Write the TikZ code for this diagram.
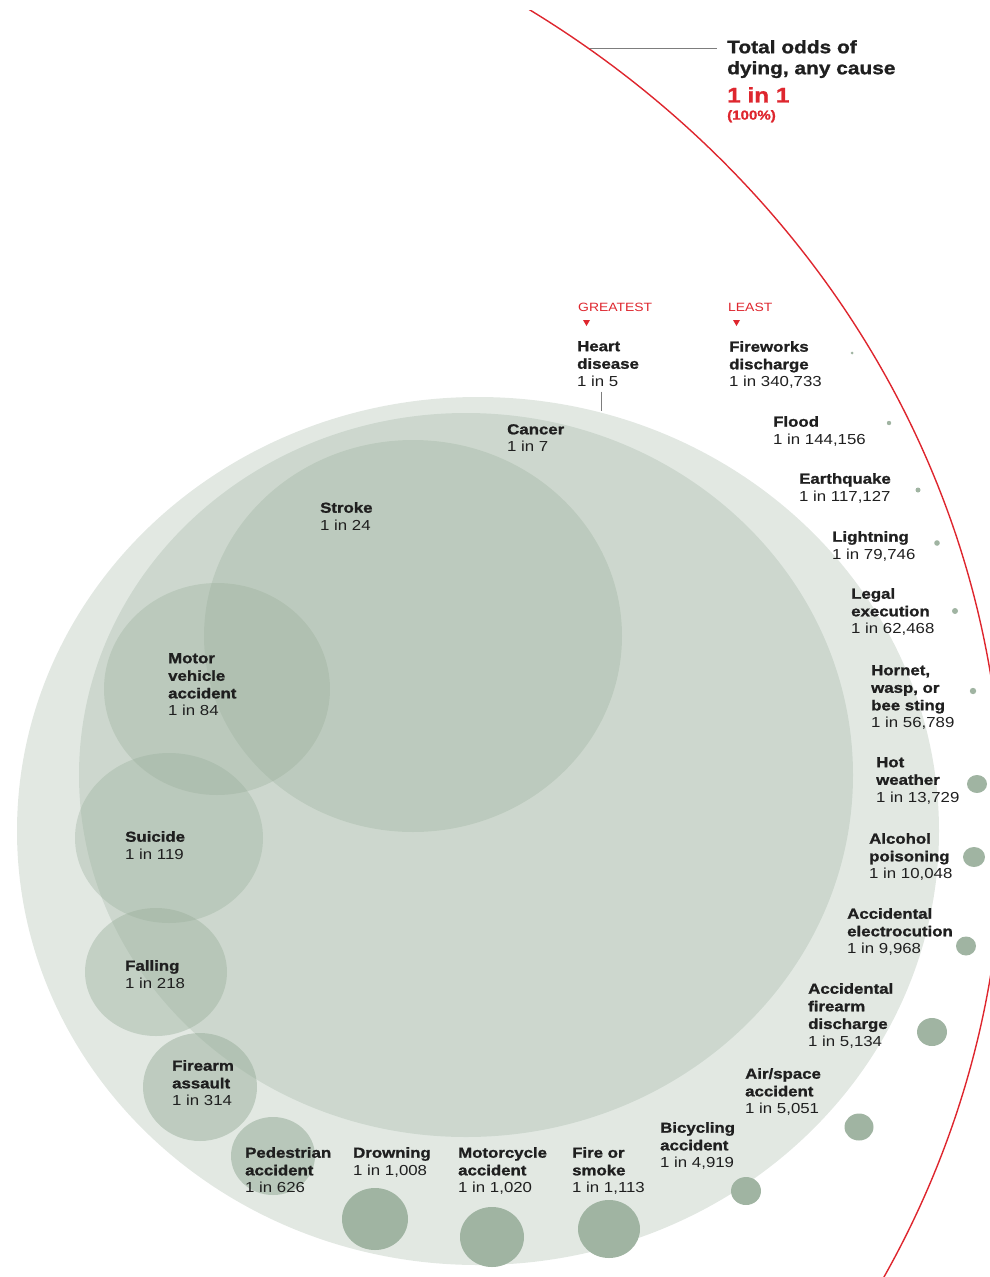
\documentclass[tikz,border=0pt]{standalone}
\usepackage{fontspec}
\setmainfont{Liberation Sans}[FakeStretch=1.16, BoldFeatures={FakeBold=1.2}]
\definecolor{sage}{RGB}{150,172,152}
\definecolor{dotsage}{RGB}{160,180,162}
\definecolor{oddsred}{RGB}{222,38,46}
\definecolor{leadgray}{RGB}{125,125,125}
\def\bubble[#1](#2)(#3:#4){\fill[#1] (#2) ellipse [x radius=#3, y radius=#4];}
\newcommand\causefont{\fontsize{14.5}{17.6}\selectfont\bfseries}
\tikzset{
	cause/.style={anchor=north west, inner sep=0pt, align=left, font=\causefont, text=black!88},
	tag/.style={anchor=north west, inner sep=0pt, align=left, text=oddsred},
	pale/.style={fill=sage, fill opacity=#1},
	pale/.default=0.28,
	leader/.style={draw=leadgray, line width=0.8pt},
}

\begin{document}
\begin{tikzpicture}[x=1pt, y=-1pt]
		%%%%% START %%%%%
		\useasboundingbox (0,0) rectangle (990,1277);
		
		% big causes
		\bubble[pale](478,831)(461:434);
		\bubble[pale](466,775)(387:362);
		\bubble[pale=0.3](413,636)(209:196);
		\bubble[pale=0.33](217,689)(113:106);
		\bubble[pale=0.34](169,838)(94:85);
		\bubble[pale=0.4](156,972)(71:64);
		\bubble[pale=0.48](200,1087)(57:54);
		\bubble[pale=0.55](273,1156)(42:39);
		
		% small causes
		\bubble[dotsage](375,1219)(33:31);
		\bubble[dotsage](492,1237)(32:30);
		\bubble[dotsage](609,1229)(31:29);
		\bubble[dotsage](746,1191)(15:14);
		\bubble[dotsage](859,1127)(14.5:13.5);
		\bubble[dotsage](932,1032)(15:14);
		\bubble[dotsage](966,946)(10:9.5);
		\bubble[dotsage](974,857)(11:10);
		\bubble[dotsage](977,784)(10:9);
		\bubble[dotsage](973,691)(3.2:3.2);
		\bubble[dotsage](955,611)(3:3);
		\bubble[dotsage](937,543)(2.8:2.8);
		\bubble[dotsage](918,490)(2.5:2.5);
		\bubble[dotsage](889,423)(2.2:2.2);
		\bubble[dotsage](852,353)(1.5:1.5);
		
		% any cause
		\begin{scope}
			\clip (0,10) rectangle (990,1277);
			\draw[oddsred, line width=1.4pt] (-37,825) ellipse [x radius=1040, y radius=972];
		\end{scope}
		
		\node[cause, font=\fontsize{18}{21}\selectfont\bfseries] (totallbl) at (727,40) {Total odds of\\dying, any cause};
		\node[tag, font=\fontsize{21}{24}\selectfont\bfseries] (onelbl) at (727,87) {1 in 1};
		\node[tag, font=\fontsize{13}{15}\selectfont\bfseries] (pctlbl) at (727,110) {(100\%)};
		\coordinate (redpin) at (590,48);
		\draw[leader, shorten >=10pt] (redpin) -- (redpin -| totallbl.west);
		
		\node[tag, font=\fontsize{12}{14}\selectfont] (greatestlbl) at (578,303) {GREATEST};
		\node[tag, font=\fontsize{12}{14}\selectfont] (leastlbl) at (728,303) {LEAST};
		\fill[oddsred] (583,320) -- (590,320) -- (586.5,326) -- cycle;
		\fill[oddsred] (733,320) -- (740,320) -- (736.5,326) -- cycle;
		
		% labels
		\node[cause] (heartlbl) at (577,341) {Heart\\disease\\\mdseries 1 in 5};
		\coordinate (heartpin) at (601,411);
		\draw[leader, shorten <=5pt] (heartlbl.south -| heartpin) -- (heartpin);
		\node[cause] (cancerlbl) at (507,424) {Cancer\\\mdseries 1 in 7};
		\node[cause] (strokelbl) at (320,502) {Stroke\\\mdseries 1 in 24};
		\node[cause] (vehiclelbl) at (168,653) {Motor\\vehicle\\accident\\\mdseries 1 in 84};
		\node[cause] (suicidelbl) at (125,831) {Suicide\\\mdseries 1 in 119};
		\node[cause] (falllbl) at (125,960) {Falling\\\mdseries 1 in 218};
		\node[cause] (assaultlbl) at (172,1060) {Firearm\\assault\\\mdseries 1 in 314};
		\node[cause] (pedlbl) at (245,1147) {Pedestrian\\accident\\\mdseries 1 in 626};
		\node[cause] (drownlbl) at (353,1147) {Drowning\\\mdseries 1 in 1,008};
		\node[cause] (motorcyclelbl) at (458,1147) {Motorcycle\\accident\\\mdseries 1 in 1,020};
		\node[cause] (firelbl) at (572,1147) {Fire or\\smoke\\\mdseries 1 in 1,113};
		\node[cause] (bikelbl) at (660,1122) {Bicycling\\accident\\\mdseries 1 in 4,919};
		\node[cause] (airlbl) at (745,1068) {Air/space\\accident\\\mdseries 1 in 5,051};
		\node[cause] (accfirearmlbl) at (808,983) {Accidental\\firearm\\discharge\\\mdseries 1 in 5,134};
		\node[cause] (electrolbl) at (847,908) {Accidental\\electrocution\\\mdseries 1 in 9,968};
		\node[cause] (alcohollbl) at (869,833) {Alcohol\\poisoning\\\mdseries 1 in 10,048};
		\node[cause] (hotlbl) at (876,757) {Hot\\weather\\\mdseries 1 in 13,729};
		\node[cause] (hornetlbl) at (871,665) {Hornet,\\wasp, or\\bee sting\\\mdseries 1 in 56,789};
		\node[cause] (legallbl) at (851,588) {Legal\\execution\\\mdseries 1 in 62,468};
		\node[cause] (lightninglbl) at (832,531) {Lightning\\\mdseries 1 in 79,746};
		\node[cause] (quakelbl) at (799,473) {Earthquake\\\mdseries 1 in 117,127};
		\node[cause] (floodlbl) at (773,416) {Flood\\\mdseries 1 in 144,156};
		\node[cause] (fireworkslbl) at (729,341) {Fireworks\\discharge\\\mdseries 1 in 340,733};
		
		%%%%% END %%%%%
\end{tikzpicture}
\end{document}
